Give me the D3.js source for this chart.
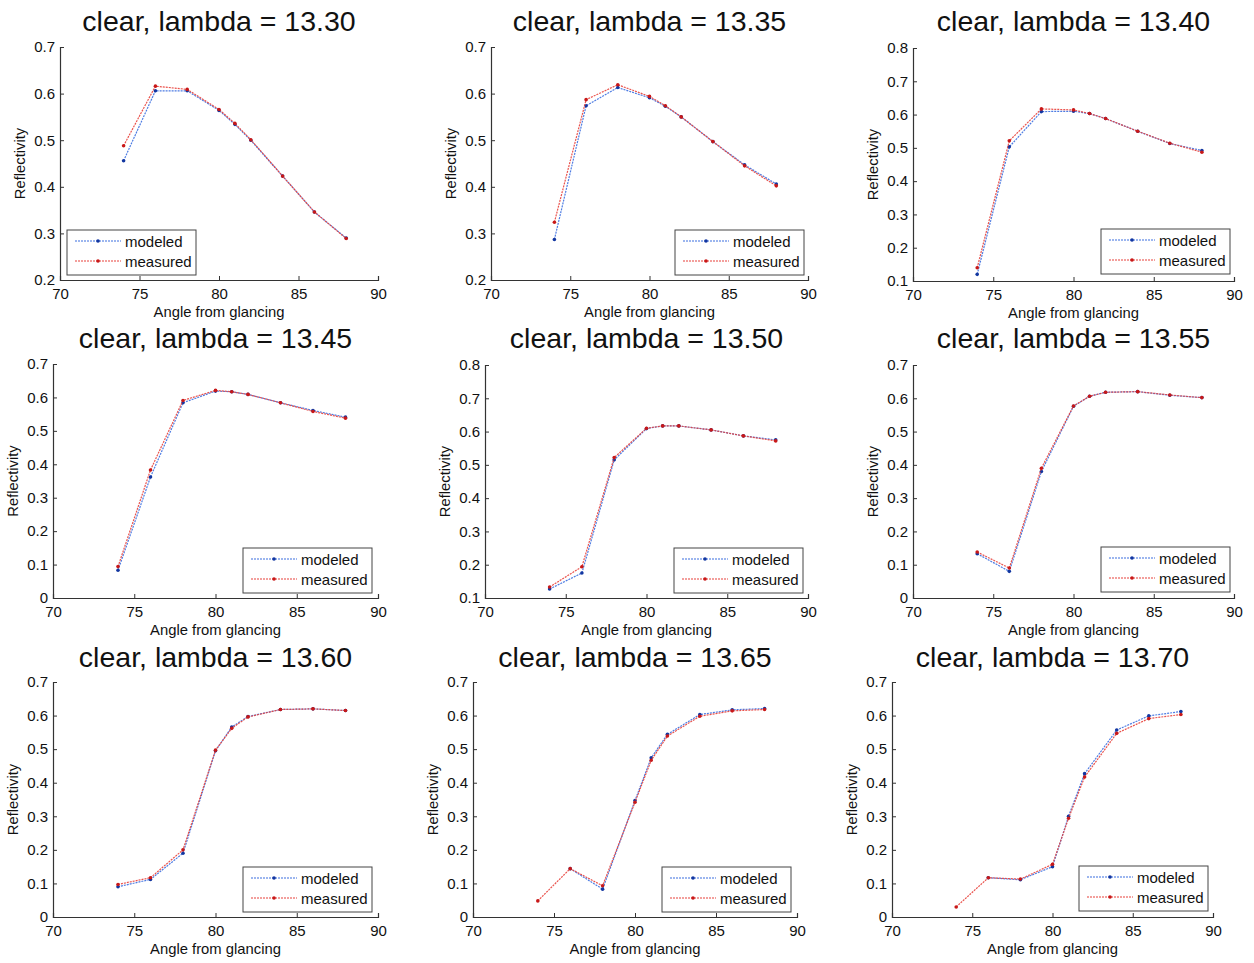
<!DOCTYPE html>
<html>
<head>
<meta charset="utf-8">
<script src="https://cdn.jsdelivr.net/npm/d3@7"></script>
<style>
  html, body { margin: 0; padding: 0; background: #fff; }
  svg { display: block; }
  text { font-family: "Liberation Sans", Arial, Helvetica, sans-serif; fill: #111; }
</style>
</head>
<body>
<svg id="chart" width="1254" height="963"></svg>
<script>
// ---------------- DATA ----------------
const angles = [74, 76, 78, 80, 81, 82, 84, 86, 88];
const lambdas = ["13.30", "13.35", "13.40", "13.45", "13.50", "13.55", "13.60", "13.65", "13.70"];
const xTicks = [70, 75, 80, 85, 90];
const seriesNames = ["modeled", "measured"];

const modeled_1330  = [0.456, 0.606, 0.606, 0.564, 0.534, 0.500, 0.423, 0.346, 0.290];
const measured_1330 = [0.488, 0.616, 0.609, 0.566, 0.536, 0.501, 0.423, 0.346, 0.289];
const modeled_1335  = [0.287, 0.574, 0.613, 0.591, 0.573, 0.550, 0.497, 0.447, 0.406];
const measured_1335 = [0.324, 0.587, 0.619, 0.594, 0.574, 0.550, 0.497, 0.445, 0.402];
const modeled_1340  = [0.120, 0.503, 0.609, 0.610, 0.603, 0.588, 0.550, 0.513, 0.492];
const measured_1340 = [0.140, 0.521, 0.617, 0.614, 0.603, 0.588, 0.550, 0.514, 0.487];
const modeled_1345  = [0.083, 0.362, 0.584, 0.619, 0.617, 0.609, 0.584, 0.561, 0.541];
const measured_1345 = [0.094, 0.383, 0.591, 0.621, 0.617, 0.609, 0.584, 0.558, 0.538];
const modeled_1350  = [0.127, 0.175, 0.515, 0.609, 0.617, 0.617, 0.605, 0.587, 0.575];
const measured_1350 = [0.133, 0.194, 0.522, 0.610, 0.617, 0.617, 0.605, 0.587, 0.572];
const modeled_1355  = [0.133, 0.080, 0.380, 0.576, 0.606, 0.618, 0.620, 0.609, 0.602];
const measured_1355 = [0.138, 0.090, 0.390, 0.577, 0.606, 0.618, 0.620, 0.610, 0.602];
const modeled_1360  = [0.090, 0.112, 0.190, 0.495, 0.566, 0.597, 0.618, 0.620, 0.615];
const measured_1360 = [0.097, 0.117, 0.200, 0.497, 0.562, 0.596, 0.618, 0.620, 0.615];
const modeled_1365  = [null, 0.144, 0.083, 0.347, 0.474, 0.544, 0.603, 0.617, 0.621];
const measured_1365 = [0.048, 0.144, 0.093, 0.342, 0.467, 0.539, 0.598, 0.614, 0.618];
const modeled_1370  = [null, 0.117, 0.111, 0.150, 0.300, 0.427, 0.557, 0.599, 0.612];
const measured_1370 = [0.030, 0.117, 0.113, 0.157, 0.294, 0.417, 0.547, 0.591, 0.603];

const yDomains = [[0.2, 0.7], [0.2, 0.7], [0.1, 0.8], [0, 0.7], [0.1, 0.8], [0, 0.7], [0, 0.7], [0, 0.7], [0, 0.7]];

const modeledAll  = [modeled_1330, modeled_1335, modeled_1340, modeled_1345, modeled_1350, modeled_1355, modeled_1360, modeled_1365, modeled_1370];
const measuredAll = [measured_1330, measured_1335, measured_1340, measured_1345, measured_1350, measured_1355, measured_1360, measured_1365, measured_1370];

// ---------------- LAYOUT ----------------
const layout = [
  {l: 60,  r: 378,  t: 47,  b: 280, lx: 67,   ly: 230, tb: 31},
  {l: 491, r: 808,  t: 47,  b: 280, lx: 675,  ly: 230, tb: 31},
  {l: 913, r: 1234, t: 48,  b: 281, lx: 1101, ly: 229, tb: 31},
  {l: 53,  r: 378,  t: 364, b: 598, lx: 243,  ly: 548, tb: 348},
  {l: 485, r: 808,  t: 365, b: 598, lx: 674,  ly: 548, tb: 348},
  {l: 913, r: 1234, t: 365, b: 598, lx: 1101, ly: 547, tb: 348},
  {l: 53,  r: 378,  t: 682, b: 917, lx: 243,  ly: 867, tb: 667},
  {l: 473, r: 797,  t: 682, b: 917, lx: 662,  ly: 867, tb: 667},
  {l: 892, r: 1213, t: 682, b: 917, lx: 1079, ly: 866, tb: 667}
];
const colors = {modeled: {line: "#3a6ee0", dot: "#1236a0"}, measured: {line: "#e8403a", dot: "#c81818"}};

const svg = d3.select("#chart");

layout.forEach((p, i) => {
  const g = svg.append("g");
  const x = d3.scaleLinear().domain([70, 90]).range([p.l, p.r]);
  const y = d3.scaleLinear().domain(yDomains[i]).range([p.b, p.t]);
  const yTicks = d3.range(Math.round(yDomains[i][0] * 10), Math.round(yDomains[i][1] * 10) + 1).map(v => v / 10);

  // x axis
  const xa = g.append("g").attr("transform", `translate(0,${p.b})`)
    .call(d3.axisBottom(x).tickValues(xTicks).tickSize(-4).tickPadding(7).tickFormat(d3.format("d")));
  xa.select(".domain").attr("stroke", "#333").attr("stroke-width", 1.2);
  xa.selectAll(".tick line").attr("stroke", "#333");
  xa.selectAll(".tick text").attr("font-size", 15).attr("font-family", "Liberation Sans, Arial, sans-serif").attr("fill", "#111").attr("dy", "0.82em");

  // y axis
  const ya = g.append("g").attr("transform", `translate(${p.l},0)`)
    .call(d3.axisLeft(y).tickValues(yTicks).tickSize(-4).tickPadding(5).tickFormat(d => d === 0 ? "0" : d3.format(".1f")(d)));
  ya.select(".domain").attr("stroke", "#333").attr("stroke-width", 1.2);
  ya.selectAll(".tick line").attr("stroke", "#333");
  ya.selectAll(".tick text").attr("font-size", 15).attr("font-family", "Liberation Sans, Arial, sans-serif").attr("fill", "#111");

  // title
  g.append("text").attr("x", (p.l + p.r) / 2).attr("y", p.tb)
    .attr("text-anchor", "middle").attr("font-size", 28.5)
    .text(`clear, lambda = ${lambdas[i]}`);

  // axis labels
  g.append("text").attr("x", (p.l + p.r) / 2).attr("y", p.b + 37)
    .attr("text-anchor", "middle").attr("font-size", 14.8).text("Angle from glancing");
  g.append("text").attr("transform", `translate(${p.l - 35},${(p.t + p.b) / 2}) rotate(-90)`)
    .attr("text-anchor", "middle").attr("font-size", 14.8).text("Reflectivity");

  // series
  const series = [
    {name: "modeled", vals: modeledAll[i]},
    {name: "measured", vals: measuredAll[i]}
  ];
  series.forEach(s => {
    const pts = angles.map((a, k) => ({a, v: s.vals[k]}));
    const line = d3.line().defined(d => d.v != null).x(d => x(d.a)).y(d => y(d.v));
    g.append("path").datum(pts).attr("d", line)
      .attr("fill", "none").attr("stroke", colors[s.name].line)
      .attr("stroke-width", 1.2).attr("stroke-dasharray", "2,1").attr("opacity", 0.9);
    g.selectAll(null).data(pts.filter(d => d.v != null)).enter().append("circle")
      .attr("cx", d => x(d.a)).attr("cy", d => y(d.v)).attr("r", 1.8)
      .attr("fill", colors[s.name].dot);
  });

  // legend
  const lg = g.append("g").attr("transform", `translate(${p.lx},${p.ly})`);
  lg.append("rect").attr("x", 0).attr("y", 0).attr("width", 129).attr("height", 45)
    .attr("fill", "#fff").attr("stroke", "#444").attr("stroke-width", 1);
  seriesNames.forEach((n, k) => {
    const yy = 11 + k * 20;
    lg.append("line").attr("x1", 8).attr("x2", 54).attr("y1", yy).attr("y2", yy)
      .attr("stroke", colors[n].line).attr("stroke-width", 1.2).attr("stroke-dasharray", "2,1");
    lg.append("circle").attr("cx", 31).attr("cy", yy).attr("r", 1.8).attr("fill", colors[n].dot);
    lg.append("text").attr("x", 58).attr("y", yy + 6).attr("font-size", 15).text(n);
  });
});
</script>
</body>
</html>
